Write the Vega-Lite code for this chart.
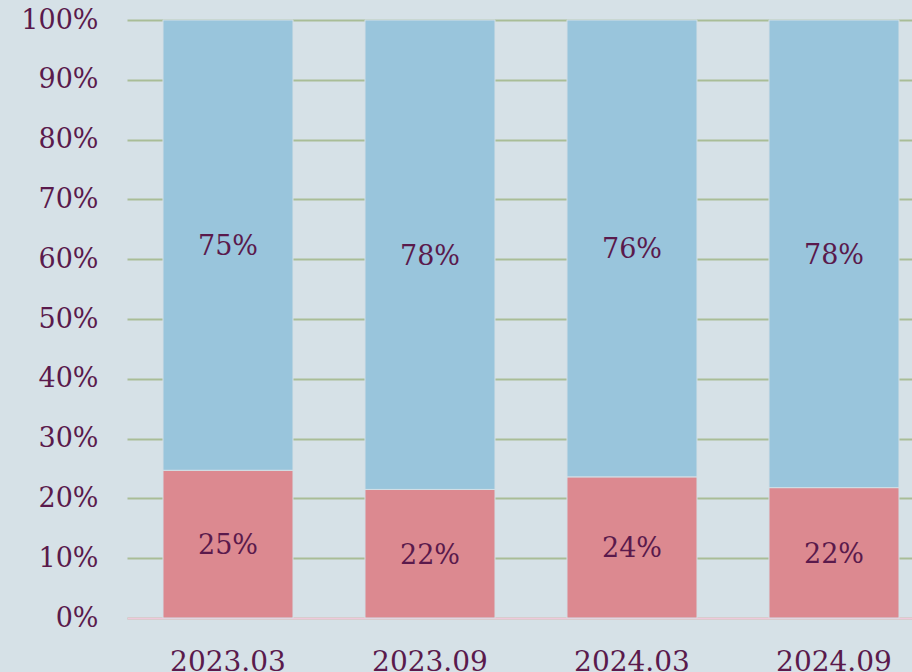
{
  "$schema": "https://vega.github.io/schema/vega-lite/v6.json",
  "width": 784,
  "height": 598,
  "autosize": {"type": "none"},
  "padding": {"left": 128, "top": 20, "right": 0, "bottom": 54},
  "background": "#d6e1e7",
  "config": {
    "view": {"stroke": null},
    "font": "DejaVu Serif"
  },
  "data": {
    "values": [
      {"period": "2023.03", "group": "A", "order": 1, "value": 24.7, "label": "25%"},
      {"period": "2023.03", "group": "B", "order": 2, "value": 75.3, "label": "75%"},
      {"period": "2023.09", "group": "A", "order": 1, "value": 21.5, "label": "22%"},
      {"period": "2023.09", "group": "B", "order": 2, "value": 78.5, "label": "78%"},
      {"period": "2024.03", "group": "A", "order": 1, "value": 23.6, "label": "24%"},
      {"period": "2024.03", "group": "B", "order": 2, "value": 76.4, "label": "76%"},
      {"period": "2024.09", "group": "A", "order": 1, "value": 21.8, "label": "22%"},
      {"period": "2024.09", "group": "B", "order": 2, "value": 78.2, "label": "78%"}
    ]
  },
  "transform": [
    {"stack": "value", "groupby": ["period"], "sort": [{"field": "order"}], "as": ["v0", "v1"]},
    {"calculate": "(datum.v0 + datum.v1) / 2", "as": "mid"}
  ],
  "encoding": {
    "x": {
      "field": "period",
      "type": "nominal",
      "scale": {"range": [-1, 807], "paddingInner": 0.3564, "paddingOuter": 0.1782},
      "axis": {
        "title": null,
        "labelAngle": 0,
        "labelFont": "DejaVu Serif",
        "labelFontSize": 28,
        "labelColor": "#5a1a4c",
        "labelPadding": 30,
        "ticks": false,
        "domain": true,
        "domainColor": "#efc9dc",
        "domainWidth": 2
      }
    }
  },
  "layer": [
    {
      "mark": {"type": "bar", "stroke": "#d3dfe5", "strokeWidth": 1},
      "encoding": {
        "y": {
          "field": "v0",
          "type": "quantitative",
          "scale": {"domain": [0, 100], "nice": false},
          "axis": {
            "title": null,
            "values": [0, 10, 20, 30, 40, 50, 60, 70, 80, 90, 100],
            "labelExpr": "datum.value + '%'",
            "labelFont": "DejaVu Serif",
            "labelFontSize": 27,
            "labelColor": "#5a1a4c",
            "labelPadding": 30,
            "ticks": false,
            "domain": false,
            "grid": true,
            "gridColor": "#a9bd97",
            "gridWidth": 2
          }
        },
        "y2": {"field": "v1"},
        "color": {
          "field": "group",
          "type": "nominal",
          "scale": {"domain": ["A", "B"], "range": ["#dc8990", "#99c5dc"]},
          "legend": null
        }
      }
    },
    {
      "mark": {"type": "text", "font": "DejaVu Serif", "fontSize": 27, "color": "#5a1a4c", "baseline": "middle", "dy": 2},
      "encoding": {
        "y": {"field": "mid", "type": "quantitative"},
        "text": {"field": "label", "type": "nominal"},
        "detail": {"field": "group"}
      }
    }
  ]
}
